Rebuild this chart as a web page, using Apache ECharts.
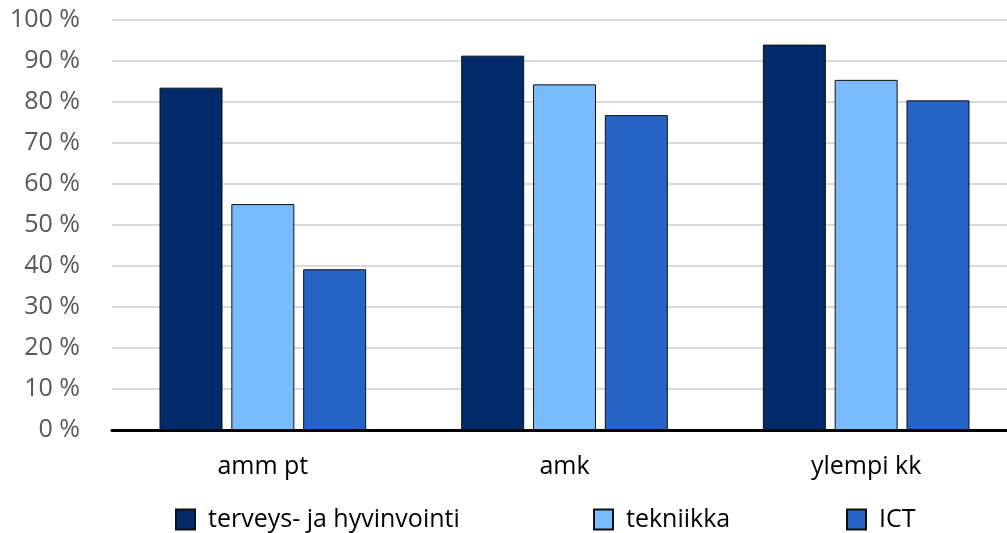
<!DOCTYPE html>
<html>
<head>
<meta charset="utf-8">
<style>html,body{margin:0;padding:0;background:#fff;}#chart{width:1007px;height:533px;}</style>
<script src="https://cdn.jsdelivr.net/npm/echarts@6/dist/echarts.min.js"></script>
</head>
<body>
<div id="chart"></div>
<script>
const categories = ['amm pt', 'amk', 'ylempi kk'];
const seriesNames = ['terveys- ja hyvinvointi', 'tekniikka', 'ICT'];
const terveys = [83.5, 91.3, 94.0];
const tekniikka = [55.1, 84.3, 85.4];
const ict = [39.2, 76.8, 80.4];
const colors = ['#012a6b', '#79bcfd', '#2563c4'];

const chart = echarts.init(document.getElementById('chart'));
const fontFamily = '"Open Sans", sans-serif';
const values = [terveys, tekniikka, ict];
const legendLefts = [175, 593, 846];

chart.setOption({
  animation: false,
  backgroundColor: '#fff',
  textStyle: { fontFamily: fontFamily },
  grid: { left: 112, width: 905, top: 20, height: 410, containLabel: false, outerBoundsMode: 'none' },
  legend: seriesNames.map((n, i) => ({
    data: [n],
    left: legendLefts[i],
    top: 507,
    padding: 0,
    itemWidth: 19,
    itemHeight: 20,
    itemGap: 12,
    icon: 'rect',
    textStyle: { fontSize: 25, color: '#000', fontFamily: fontFamily, padding: [0, 0, 0, 8] }
  })),
  xAxis: {
    type: 'category',
    data: categories,
    axisLine: { lineStyle: { color: '#000', width: 3 } },
    axisTick: { show: false },
    axisLabel: { fontSize: 25, color: '#000', margin: 24 }
  },
  yAxis: {
    type: 'value',
    min: 0,
    max: 100,
    interval: 10,
    axisLine: { show: false },
    axisTick: { show: false },
    axisLabel: { formatter: '{value} %', fontSize: 25, color: '#595959', margin: 32 },
    splitLine: { lineStyle: { color: '#d9d9d9', width: 2 } }
  },
  series: seriesNames.map((n, i) => ({
    name: n,
    type: 'bar',
    data: values[i],
    barWidth: 63,
    barGap: '14%',
    itemStyle: { color: colors[i], borderColor: '#111', borderWidth: 1 }
  }))
});
</script>
</body>
</html>
